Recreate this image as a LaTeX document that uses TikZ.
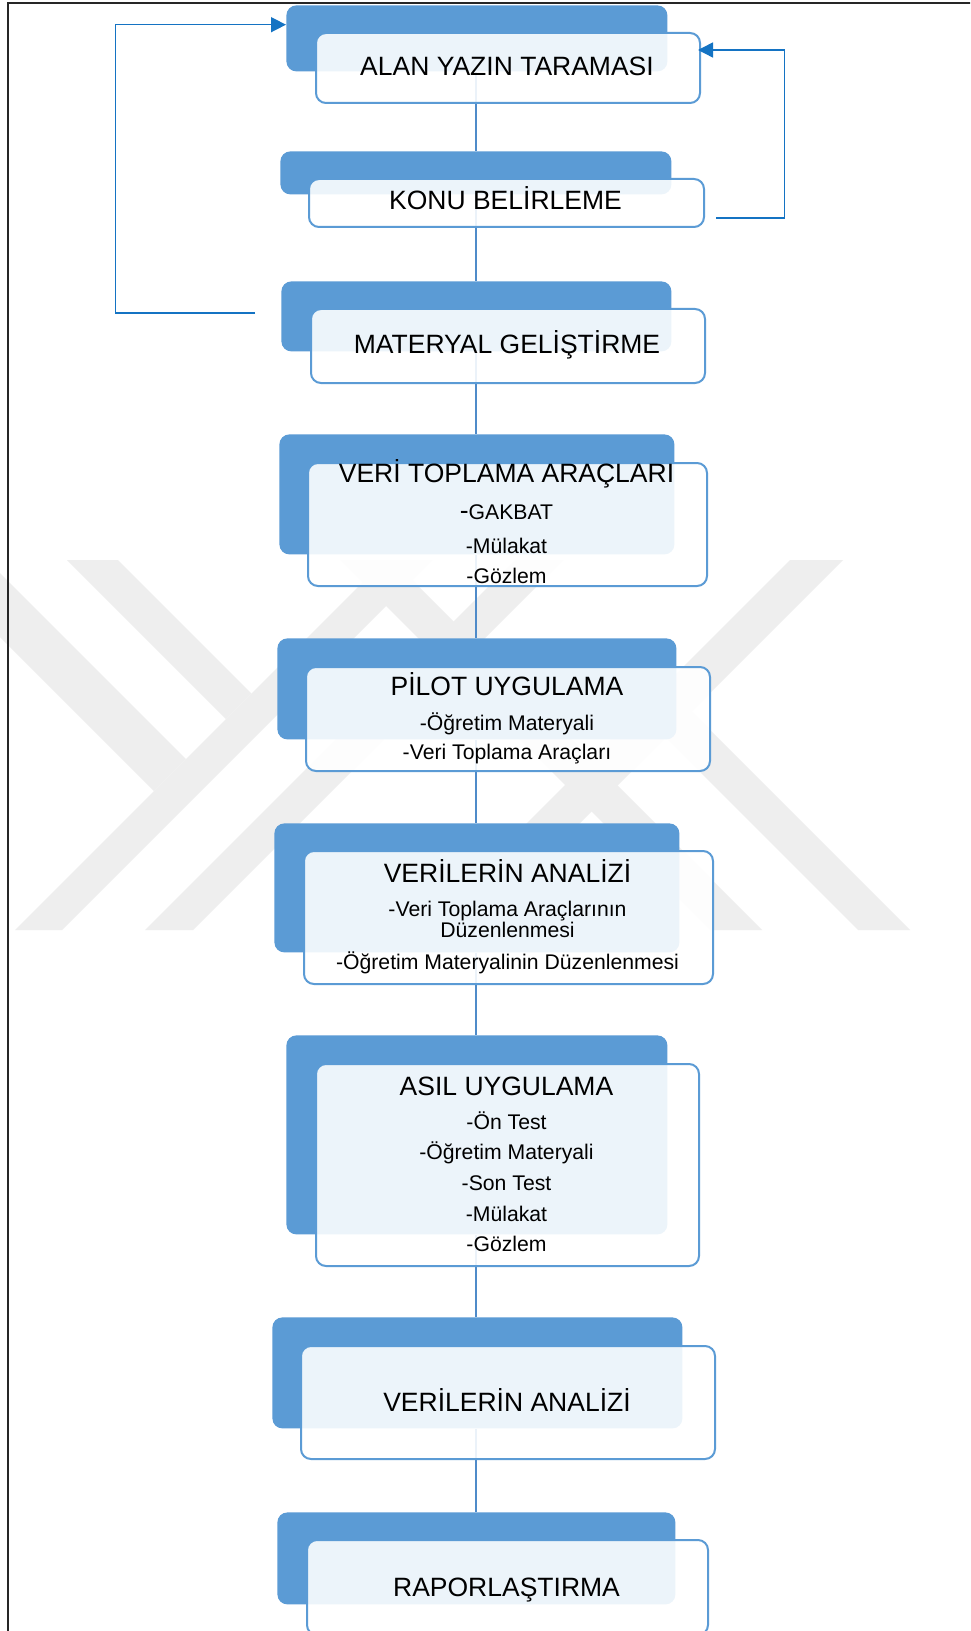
\documentclass[tikz,border=0pt]{standalone}
\usepackage{fontspec}
\setmainfont{Liberation Sans}
\usetikzlibrary{arrows.meta}
\pgfdeclarelayer{wm}
\pgfdeclarelayer{under}
\pgfsetlayers{wm,under,main}
\definecolor{boxblue}{RGB}{91,155,213}
\definecolor{linkblue}{RGB}{79,139,201}
\definecolor{fbblue}{RGB}{20,115,195}
\definecolor{wmgray}{RGB}{238,238,238}
\definecolor{framegray}{RGB}{38,38,38}
\tikzset{
  backbox/.style={rectangle, rounded corners=5pt, fill=boxblue, draw=none, inner sep=0pt},
  frontbox/.style={rectangle, rounded corners=5pt, fill=white, fill opacity=0.89, draw=boxblue, line width=1pt, inner sep=0pt},
  head/.style={inner sep=0pt, anchor=base, font=\fontsize{13.25}{15}\selectfont},
  item/.style={inner sep=0pt, anchor=base, font=\fontsize{10.6}{12}\selectfont},
  link/.style={draw=linkblue, line width=1pt},
  feedback/.style={draw=fbblue, line width=0.75pt, -{Triangle[length=7.5pt,width=7.5pt]}},
  wmband/.style={fill=wmgray, draw=none},
}
\newcommand{\stepboxpair}[9]{%
  \pgfmathsetmacro{\sbW}{(#4-#2)*0.5}%
  \pgfmathsetmacro{\sbH}{(#5-#3)*0.5}%
  \node[backbox, minimum width=\sbW pt, minimum height=\sbH pt, anchor=north west] (bk#1) at (#2,#3) {};%
  \pgfmathsetmacro{\sfW}{(#8-#6)*0.5}%
  \pgfmathsetmacro{\sfH}{(#9-#7)*0.5}%
  \node[frontbox, minimum width=\sfW pt, minimum height=\sfH pt, anchor=north west] (fr#1) at (#6,#7) {};%
}
\begin{document}
\begin{tikzpicture}[x=0.5pt,y=-0.5pt]
\useasboundingbox (0,0) rectangle (970,1631);
\clip (0,0) rectangle (970,1631);

% background and watermark
\begin{pgfonlayer}{wm}
\fill[white] (0,0) rectangle (970,1631);
\begin{scope}
\clip (0,560) rectangle (970,930);
\fill[wmband] (385,560) -- (432,560) -- (62,930) -- (15,930) -- cycle;
\fill[wmband] (515,560) -- (563,560) -- (193,930) -- (145,930) -- cycle;
\fill[wmband] (790,560) -- (843,560) -- (473,930) -- (420,930) -- cycle;
\fill[wmband] (340,560) -- (392,560) -- (762,930) -- (710,930) -- cycle;
\fill[wmband] (67,560) -- (118,560) -- (251.5,693.5) -- (226,719) -- cycle;
\fill[wmband] (0,573) -- (186,759) -- (154,791) -- (0,637) -- cycle;
\fill[wmband] (665.5,737.5) -- (691.5,711.5) -- (910,930) -- (858,930) -- cycle;
\end{scope}
\end{pgfonlayer}

% frame
\draw[framegray, line width=1pt] (8,1640) -- (8,3) -- (975,3);

% boxes
\stepboxpair{1}{286}{5}{667}{71}{315}{32}{699}{102}
\stepboxpair{2}{280}{151}{671}{194}{308}{178}{703}{226}
\stepboxpair{3}{281}{281}{671}{351}{310}{308}{704}{382}
\stepboxpair{4}{279}{434}{674}{554}{307}{462}{706}{585}
\stepboxpair{5}{277}{638}{676}{739}{305}{666}{709}{770}
\stepboxpair{6}{274}{823}{679}{952}{303}{850}{712}{983}
\stepboxpair{7}{286}{1035}{667}{1234}{315}{1063}{698}{1265}
\stepboxpair{8}{272}{1317}{682}{1428}{300}{1345}{714}{1458}
\stepboxpair{9}{277}{1512}{675}{1604}{306}{1539}{707}{1634}

% connectors
\coordinate (linkx) at (476,0);
\begin{pgfonlayer}{under}
\foreach \a/\b in {1/2,2/3,3/4,4/5,5/6,6/7,7/8,8/9}
  \draw[link] (bk\a.south -| linkx) -- (bk\b.north -| linkx);
\end{pgfonlayer}

% feedback arrows
\coordinate (lstart) at (255,313);
\coordinate (lcorner) at (115.7,24.7);
\draw[feedback] (lstart) -| (lcorner) -- (lcorner -| bk1.west);
\coordinate (rstart) at (716,218);
\coordinate (rcorner) at (784.4,50);
\draw[feedback, shorten >=-1.5pt] (rstart) -| (rcorner) -- (rcorner -| fr1.east);

% texts
\node[head] (t1) at (507,76) {ALAN YAZIN TARAMASI};
\node[head] (t2) at (505.5,210) {KONU BELİRLEME};
\node[head] (t3) at (507,353) {MATERYAL GELİŞTİRME};

\node[head] (t4a) at (506.5,482) {VERİ TOPLAMA ARAÇLARI};
\node[item] (t4b) at (506.5,519) {{\fontsize{13.25}{15}\selectfont -}GAKBAT};
\node[item] (t4c) at (506.5,553) {-Mülakat};
\node[item] (t4d) at (506.5,583) {-Gözlem};

\node[head] (t5a) at (507,695) {PİLOT UYGULAMA};
\node[item] (t5b) at (507,730) {-Öğretim Materyali};
\node[item] (t5c) at (507,759) {-Veri Toplama Araçları};

\node[head] (t6a) at (507.5,882) {VERİLERİN ANALİZİ};
\node[item] (t6b) at (507.5,916) {-Veri Toplama Araçlarının};
\node[item] (t6c) at (507.5,937) {Düzenlenmesi};
\node[item] (t6d) at (507.5,969) {-Öğretim Materyalinin Düzenlenmesi};

\node[head] (t7a) at (506.5,1095) {ASIL UYGULAMA};
\node[item] (t7b) at (506.5,1129) {-Ön Test};
\node[item] (t7c) at (506.5,1159) {-Öğretim Materyali};
\node[item] (t7d) at (506.5,1190) {-Son Test};
\node[item] (t7e) at (506.5,1221) {-Mülakat};
\node[item] (t7f) at (506.5,1251) {-Gözlem};

\node[head] (t8) at (507,1411) {VERİLERİN ANALİZİ};
\node[head] (t9) at (506.5,1596) {RAPORLAŞTIRMA};
\end{tikzpicture}
\end{document}
